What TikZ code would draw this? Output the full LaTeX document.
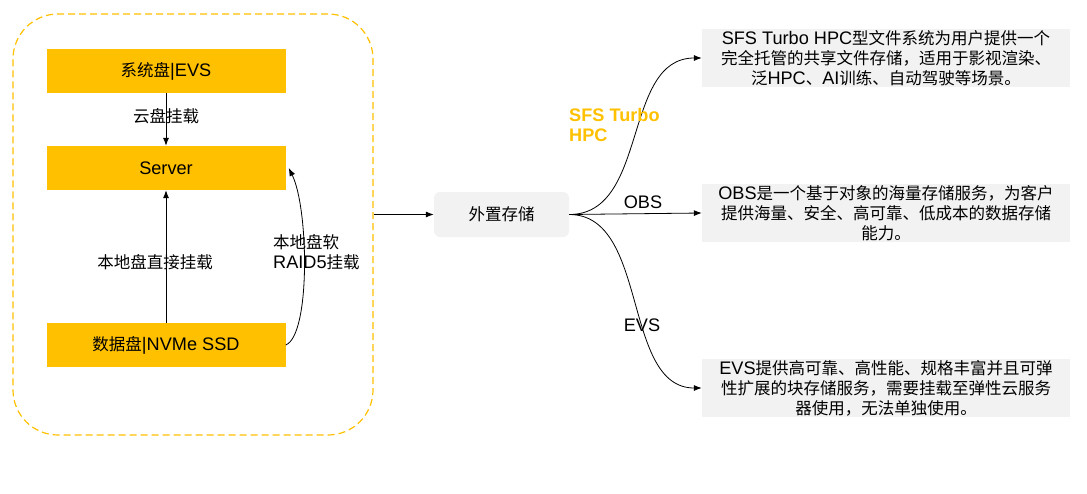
\documentclass[tikz,border=0pt]{standalone}
\usepackage{fontspec}
\setmainfont{Liberation Sans}[Scale=1.1]
\newfontfamily\cjk{Noto Sans CJK SC}
\usetikzlibrary{arrows.meta,positioning}
\definecolor{hwgold}{RGB}{255,192,0}
\definecolor{panelgray}{RGB}{242,242,242}
\newcommand{\zh}[1]{{\cjk #1}}

\begin{document}
\begin{tikzpicture}[x=1pt,y=-1pt,
  every node/.style={font=\fontsize{16.5}{20}\selectfont},
  diskbox/.style={fill=hwgold, minimum width=239pt, minimum height=44pt, inner sep=0pt},
  infobox/.style={fill=panelgray, minimum width=368pt, minimum height=58pt, inner sep=0pt, align=center},
  conn/.style={line width=0.8pt, -{Latex[length=8pt,width=6pt]}}]
			\useasboundingbox (0,0) rectangle (1087,493);
			
			% local side
			\node[draw=hwgold, line width=1.2pt, dash pattern=on 7pt off 4pt, rounded corners=45pt,
			      minimum width=360pt, minimum height=421pt] (local) at (193,224.5) {};
			\node[diskbox] (sysdisk) at (166,71) {\zh{系统盘}|EVS};
			\node[diskbox] (server) at (166,168) {Server};
			\node[diskbox] (datadisk) at (166,345) {\zh{数据盘}|NVMe SSD};
			
			\draw[conn] (sysdisk.south) -- (server.north);
			\node (cloudmount) at (166,116) {\zh{云盘挂载}};
			
			\draw[conn] (datadisk.north) -- (server.south);
			\node (directmount) at (155,262) {\zh{本地盘直接挂载}};
			
			\draw[conn] (datadisk.east) .. controls +(25,-10) and +(20,40) .. ([xshift=3pt]server.east);
			\node[anchor=west, align=left, inner sep=0pt] (raidmount) at (273,252) {\zh{本地盘软}\\RAID5\zh{挂载}};
			
			% external storage
			\node[fill=panelgray, rounded corners=6pt, minimum width=135pt, minimum height=45pt, inner sep=0pt] (ext) at (501.5,214.5) {\zh{外置存储}};
			\draw[conn] (local.east |- ext) -- (ext.west);
			
			\node[infobox] (sfsinfo) at (886,58) {SFS Turbo HPC\zh{型文件系统为用户提供一个}\\\zh{完全托管的共享文件存储，适用于影视渲染、}\\\zh{泛}HPC\zh{、}AI\zh{训练、自动驾驶等场景。}};
			\node[infobox] (obsinfo) at (886,213) {OBS\zh{是一个基于对象的海量存储服务，为客户}\\\zh{提供海量、安全、高可靠、低成本的数据存储}\\\zh{能力。}};
			\node[infobox] (evsinfo) at (886,388) {EVS\zh{提供高可靠、高性能、规格丰富并且可弹}\\\zh{性扩展的块存储服务，需要挂载至弹性云服务}\\\zh{器使用，无法单独使用。}};
			
			\draw[conn] (ext.east) .. controls +(80,0) and +(-80,0) .. (sfsinfo.west);
			\draw[conn] (ext.east) -- (obsinfo.west);
			\draw[conn] (ext.east) .. controls +(80,0) and +(-80,0) .. (evsinfo.west);
			
			\node[anchor=west, align=left, inner sep=0pt, text=hwgold, font=\fontsize{16.5}{20}\selectfont\bfseries] (sfslabel) at (569,125) {SFS Turbo\\HPC};
			\node (obslabel) at (643,202) {OBS};
			\node (evslabel) at (642,325) {EVS};
			
		\end{tikzpicture}
\end{document}
